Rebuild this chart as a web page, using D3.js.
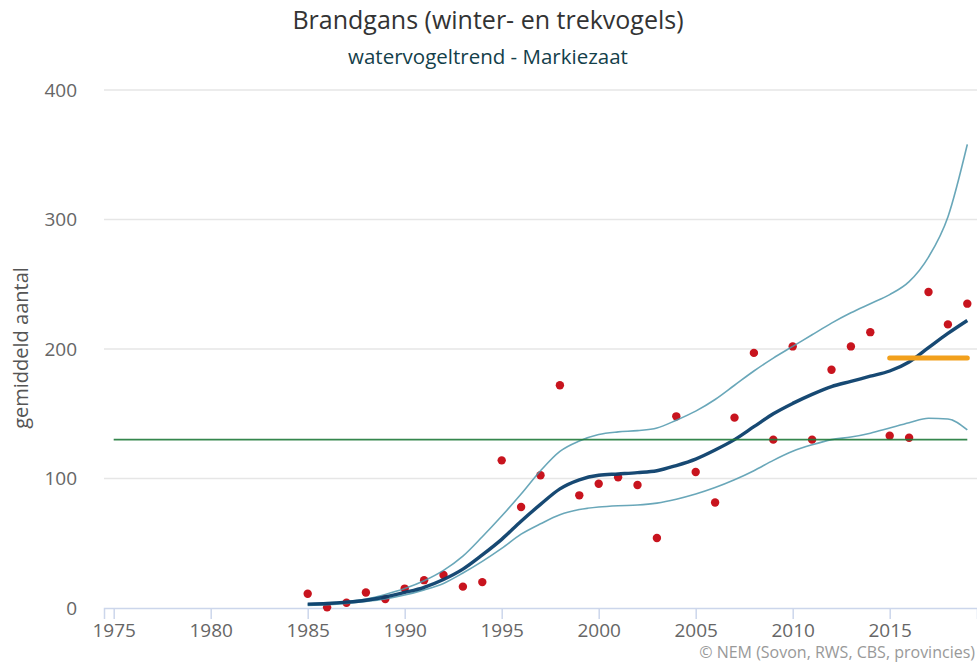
<!DOCTYPE html>
<html>
<head>
<meta charset="utf-8">
<script src="https://cdn.jsdelivr.net/npm/d3@7"></script>
<style>
  body { margin: 0; background: #fff; }
  svg { font-family: "Open Sans", sans-serif; }
</style>
</head>
<body>
<div id="chart"></div>
<script>
// data
var jaren = d3.range(1985, 2020);
var gemiddeld = [11, 0.5, 4, 12, 7, 15, 21.5, 25.5, 16.5, 20, 114, 78, 102.5, 172, 87, 96, 101, 95, 54, 148,
                 105, 81.5, 147, 197, 130, 202, 130, 184, 202, 213, 133, 131.5, 244, 219, 235];
var trend = [3, 3.5, 4.5, 6, 8.5, 12, 16, 22, 30, 41, 53, 67, 80, 92, 99, 102.5, 103.5, 104.5, 106, 110,
             115, 122, 130, 140, 150, 158, 165, 171, 175, 179, 183, 190, 201, 212, 222];
var bovengrens = [3, 4, 5, 7, 10.5, 15, 21, 29, 40, 55, 71, 88, 106, 121, 129, 134, 136, 137, 139, 145,
                  152, 161, 172, 183, 193, 202, 211, 220, 228, 235, 242, 252, 271, 302, 358];
var ondergrens = [2, 2.5, 3.5, 5, 7, 10, 14, 19, 27, 36, 46, 57, 65, 72, 76, 78, 79, 79.5, 81, 84,
                  88, 93, 99, 106, 114, 121, 126, 130, 132, 135, 139, 143, 146.5, 146, 137.5];
var referentie = { van: 1975, tot: 2019, waarde: 130 };
var recent = { van: 2015, tot: 2019, waarde: 193 };
var xTicks = [1975, 1980, 1985, 1990, 1995, 2000, 2005, 2010, 2015];
var yTicks = [0, 100, 200, 300, 400];

var width = 977, height = 664;

var svg = d3.select("#chart").append("svg")
    .attr("width", width)
    .attr("height", height);

var x = d3.scaleLinear().domain([1974.5, 2019.5]).range([104, 977]);
var y = d3.scaleLinear().domain([0, 400]).range([608, 90]);

// titels
svg.append("text")
    .attr("x", 488).attr("y", 29)
    .attr("text-anchor", "middle")
    .attr("font-size", "25px")
    .attr("fill", "#333")
    .text("Brandgans (winter- en trekvogels)");

svg.append("text")
    .attr("x", 488).attr("y", 64)
    .attr("text-anchor", "middle")
    .attr("font-size", "20.5px")
    .attr("fill", "#13404a")
    .text("watervogeltrend - Markiezaat");

// gridlijnen
svg.append("g").selectAll("line")
    .data(yTicks.filter(function (d) { return d > 0; }))
    .enter().append("line")
    .attr("x1", 104).attr("x2", 977)
    .attr("y1", function (d) { return y(d); })
    .attr("y2", function (d) { return y(d); })
    .attr("stroke", "#e6e6e6")
    .attr("stroke-width", 1.5);

// y-as
var yAxis = svg.append("g")
    .attr("transform", "translate(104,0)")
    .call(d3.axisLeft(y).tickValues(yTicks).tickSize(0).tickPadding(27));
yAxis.select(".domain").remove();
yAxis.selectAll("text")
    .attr("font-size", "19px")
    .attr("fill", "#666")
    .attr("font-family", "Open Sans, sans-serif");

// x-as
var xAxis = svg.append("g")
    .attr("transform", "translate(0,608)")
    .call(d3.axisBottom(x).tickValues(xTicks).tickFormat(d3.format("d")).tickSize(11).tickPadding(5));
xAxis.select(".domain")
    .attr("stroke", "#ccd6eb")
    .attr("stroke-width", 1.5);
xAxis.selectAll(".tick line")
    .attr("stroke", "#ccd6eb")
    .attr("stroke-width", 1.5);
xAxis.selectAll("text")
    .attr("font-size", "19px")
    .attr("fill", "#666")
    .attr("font-family", "Open Sans, sans-serif");

// y-as titel
svg.append("text")
    .attr("transform", "translate(28,348) rotate(-90)")
    .attr("text-anchor", "middle")
    .attr("font-size", "20px")
    .attr("fill", "#555")
    .text("gemiddeld aantal");

// punten
svg.append("g").selectAll("circle")
    .data(jaren)
    .enter().append("circle")
    .attr("cx", function (d) { return x(d); })
    .attr("cy", function (d, i) { return y(gemiddeld[i]); })
    .attr("r", 4.2)
    .attr("fill", "#c8141e");

var lijn = d3.line()
    .x(function (d) { return x(d[0]); })
    .y(function (d) { return y(d[1]); })
    .curve(d3.curveMonotoneX);

function reeks(waarden) {
    return jaren.map(function (j, i) { return [j, waarden[i]]; });
}

svg.append("path")
    .attr("d", lijn(reeks(bovengrens)))
    .attr("fill", "none")
    .attr("stroke", "#4f98ad")
    .attr("stroke-opacity", 0.85)
    .attr("stroke-width", 1.6);

svg.append("path")
    .attr("d", lijn(reeks(ondergrens)))
    .attr("fill", "none")
    .attr("stroke", "#4f98ad")
    .attr("stroke-opacity", 0.85)
    .attr("stroke-width", 1.6);

svg.append("path")
    .attr("d", lijn(reeks(trend)))
    .attr("fill", "none")
    .attr("stroke", "#0b3f6c")
    .attr("stroke-opacity", 0.95)
    .attr("stroke-width", 3.4);

// referentielijn
svg.append("line")
    .attr("x1", x(referentie.van)).attr("x2", x(referentie.tot))
    .attr("y1", y(referentie.waarde)).attr("y2", y(referentie.waarde))
    .attr("stroke", "#1f7a3a")
    .attr("stroke-opacity", 0.9)
    .attr("stroke-width", 1.6);

// gemiddelde laatste jaren
svg.append("line")
    .attr("x1", x(recent.van)).attr("x2", x(recent.tot))
    .attr("y1", y(recent.waarde)).attr("y2", y(recent.waarde))
    .attr("stroke", "#f2a01c")
    .attr("stroke-width", 5)
    .attr("stroke-linecap", "round");

// bron
svg.append("text")
    .attr("x", 975).attr("y", 658)
    .attr("text-anchor", "end")
    .attr("font-size", "16px")
    .attr("fill", "#999")
    .text("© NEM (Sovon, RWS, CBS, provincies)");
</script>
</body>
</html>
